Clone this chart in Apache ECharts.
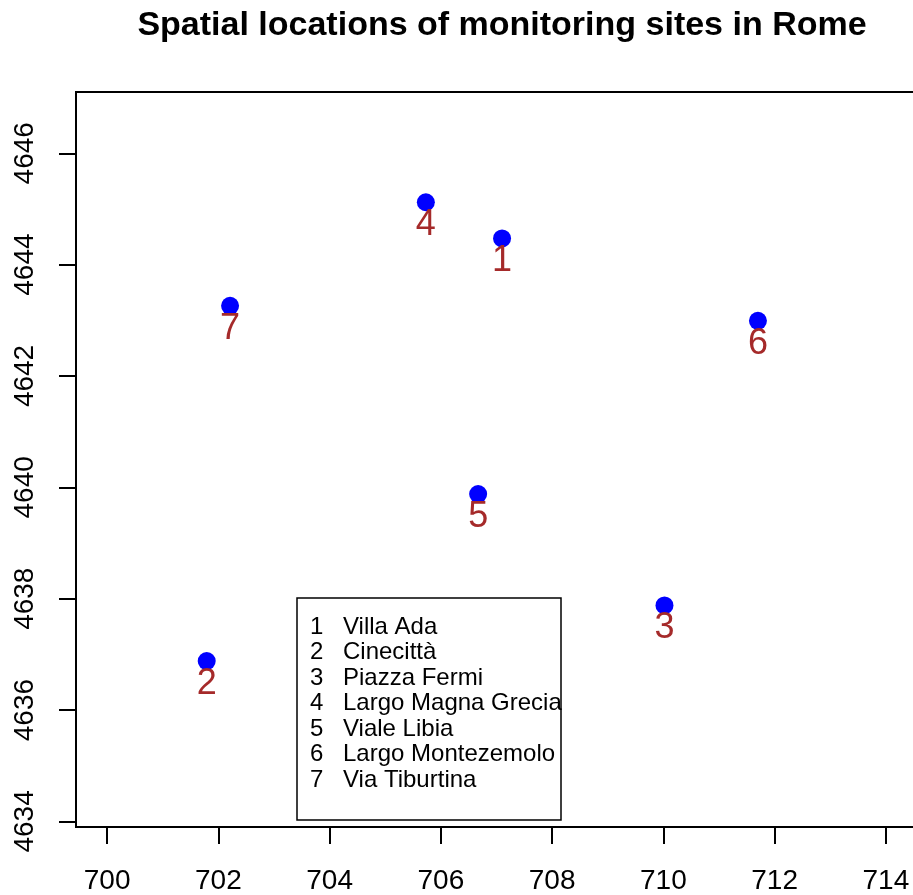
<!DOCTYPE html>
<html>
<head>
<meta charset="utf-8">
<script src="https://cdn.jsdelivr.net/npm/echarts@6/dist/echarts.min.js"></script>
<style>
  html, body { margin: 0; padding: 0; background: #ffffff; }
  #chart { width: 913px; height: 895px; }
</style>
</head>
<body>
<div id="chart"></div>
<script>
// Monitoring sites: id, name, easting / northing (km)
const siteIds = ['1', '2', '3', '4', '5', '6', '7'];
const siteNames = ['Villa Ada', 'Cinecittà', 'Piazza Fermi', 'Largo Magna Grecia',
                   'Viale Libia', 'Largo Montezemolo', 'Via Tiburtina'];
const eastKm  = [707.10, 701.79, 710.02, 705.73, 706.67, 711.70, 702.21];
const northKm = [4644.47, 4636.88, 4637.88, 4645.12, 4639.88, 4642.99, 4643.26];

// Axis tick labels
const xTicks = [700, 702, 704, 706, 708, 710, 712, 714];
const yTicks = [4634, 4636, 4638, 4640, 4642, 4644, 4646];

const FONT = '"Liberation Sans", Arial, Helvetica, sans-serif';

const points = eastKm.map((x, i) => [x, northKm[i], siteIds[i]]);

const chart = echarts.init(document.getElementById('chart'), null, { renderer: 'canvas' });

// Legend rows (text only, no symbols)
const legendLeft = 297, legendTop = 598, legendW = 264, legendH = 222;
const rowY0 = 627, rowStep = 25.5;
const legendGraphics = [{
  type: 'rect',
  shape: { x: legendLeft, y: legendTop, width: legendW, height: legendH },
  style: { fill: 'transparent', stroke: '#000', lineWidth: 1.5 },
  z: 10
}];
siteIds.forEach((id, i) => {
  legendGraphics.push({
    type: 'text', x: 310, y: rowY0 + i * rowStep, z: 11,
    style: { text: id, font: '24px ' + FONT, fill: '#000', align: 'left', verticalAlign: 'middle' }
  });
  legendGraphics.push({
    type: 'text', x: 343, y: rowY0 + i * rowStep, z: 11,
    style: { text: siteNames[i], font: '24px ' + FONT, fill: '#000', align: 'left', verticalAlign: 'middle' }
  });
});

chart.setOption({
  animation: false,
  backgroundColor: '#ffffff',
  title: {
    text: 'Spatial locations of monitoring sites in Rome',
    left: 497,
    textAlign: 'center',
    top: 4,
    textStyle: { fontFamily: FONT, fontWeight: 'bold', fontSize: 34, color: '#000' }
  },
  grid: {
    left: 76, top: 92, width: 841, height: 735,
    show: true, borderColor: '#000', borderWidth: 2,
    backgroundColor: 'transparent',
    outerBoundsMode: 'none',
    containLabel: false
  },
  xAxis: {
    type: 'value',
    min: 699.44, max: 714.56,
    splitLine: { show: false },
    axisLine: { show: false },
    axisTick: { show: true, length: 17, customValues: xTicks, lineStyle: { color: '#000', width: 2 } },
    axisLabel: {
      customValues: xTicks, margin: 40,
      formatter: v => String(v),
      fontFamily: FONT, fontSize: 28, color: '#000'
    }
  },
  yAxis: {
    type: 'value',
    min: 4633.9, max: 4647.1,
    splitLine: { show: false },
    axisLine: { show: false },
    axisTick: { show: true, length: 17, customValues: yTicks, lineStyle: { color: '#000', width: 2 } },
    axisLabel: {
      customValues: yTicks, rotate: 90, margin: 37,
      formatter: v => String(v),
      fontFamily: FONT, fontSize: 28, color: '#000'
    }
  },
  series: [{
    type: 'scatter',
    data: points,
    symbol: 'circle',
    symbolSize: 18,
    itemStyle: { color: '#0000ff', opacity: 1 },
    label: {
      show: true,
      position: 'inside',
      offset: [0, 23],
      formatter: p => p.data[2],
      fontFamily: FONT,
      fontSize: 36,
      color: '#a52a2a'
    },
    z: 5
  }],
  graphic: legendGraphics
});
</script>
</body>
</html>
